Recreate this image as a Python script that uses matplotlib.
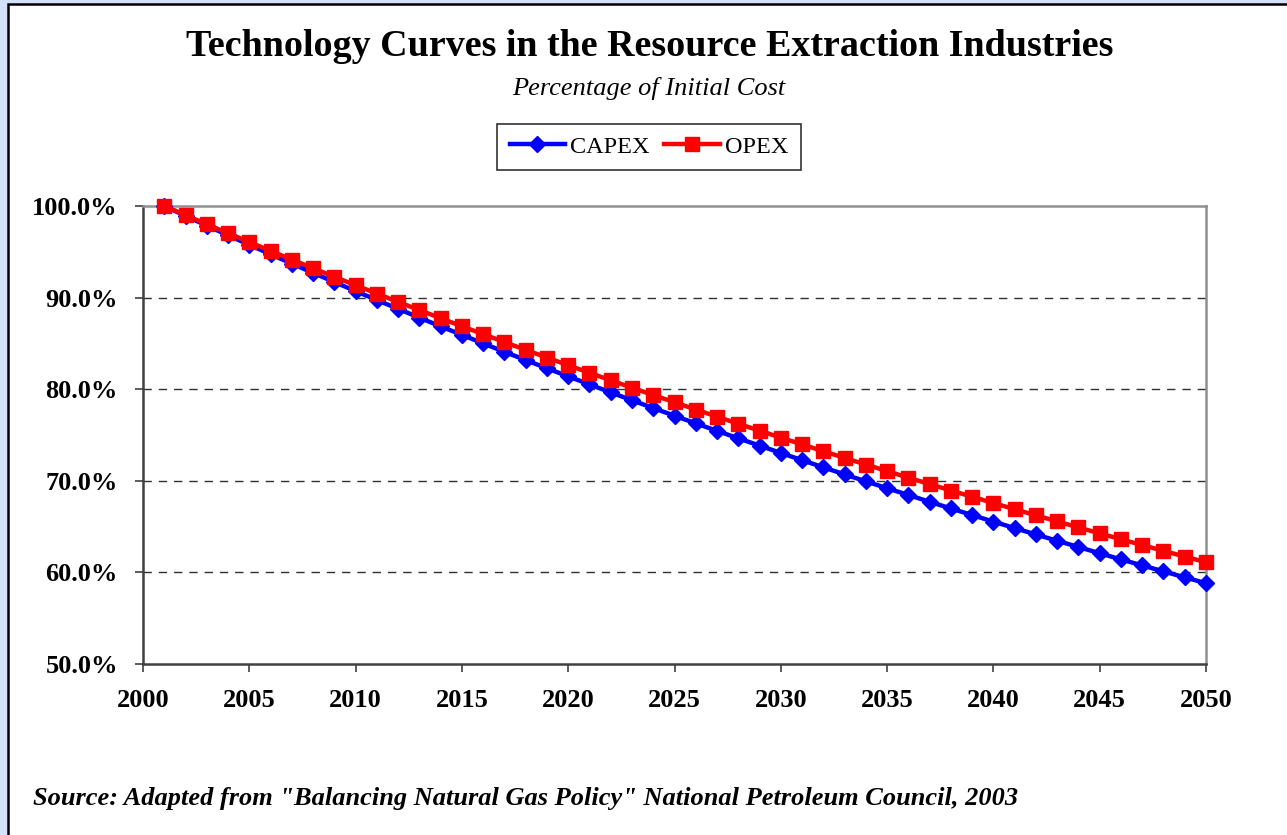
import matplotlib
matplotlib.use("Agg")
import matplotlib.pyplot as plt
from matplotlib.patches import Rectangle
from matplotlib.ticker import FuncFormatter

years = list(range(2001, 2051))
capex = [100.0, 98.92, 97.86, 96.80, 95.76, 94.73, 93.71, 92.70, 91.70, 90.71,
         89.73, 88.77, 87.81, 86.86, 85.93, 85.00, 84.08, 83.18, 82.28, 81.40,
         80.52, 79.65, 78.79, 77.94, 77.10, 76.27, 75.45, 74.64, 73.84, 73.04,
         72.25, 71.47, 70.70, 69.94, 69.19, 68.45, 67.71, 66.98, 66.26, 65.54,
         64.84, 64.14, 63.45, 62.77, 62.09, 61.42, 60.76, 60.11, 59.46, 58.82]
opex = [100.0, 99.00, 98.01, 97.03, 96.06, 95.10, 94.15, 93.21, 92.27, 91.35,
        90.44, 89.53, 88.64, 87.75, 86.87, 86.01, 85.15, 84.29, 83.45, 82.62,
        81.79, 80.97, 80.16, 79.36, 78.57, 77.78, 77.00, 76.23, 75.47, 74.72,
        73.97, 73.23, 72.50, 71.77, 71.06, 70.34, 69.64, 68.94, 68.26, 67.57,
        66.90, 66.23, 65.57, 64.91, 64.26, 63.62, 62.98, 62.35, 61.73, 61.11]
x_ticks = list(range(2000, 2051, 5))
y_ticks = [50, 60, 70, 80, 90, 100]

plt.rcParams['font.family'] = ['Liberation Serif', 'DejaVu Serif']

W, H = 1287, 835
fig = plt.figure(figsize=(W / 100, H / 100), dpi=100)
fig.patch.set_facecolor('#d5e1f9')
fig.patches.append(Rectangle((8 / W, -0.05), 1.1, 1 - 4 / H + 0.05,
                             transform=fig.transFigure, facecolor='white',
                             edgecolor='black', linewidth=1.8, zorder=-5))

ax = fig.add_axes([143 / W, 1 - 664 / H, (1206 - 143) / W, (664 - 206) / H])
ax.set_zorder(2)
ax.set_facecolor('white')

ax.plot(years, capex, color='#0000ff', linewidth=3.2, marker='D',
        markersize=8.5, label='CAPEX', zorder=3, clip_on=False)
ax.plot(years, opex, color='#ff0000', linewidth=3.2, marker='s',
        markersize=10, label='OPEX', zorder=4, clip_on=False)

ax.set_xlim(2000, 2050)
ax.set_ylim(50, 100)
ax.set_xticks(x_ticks)
ax.set_yticks(y_ticks)
ax.yaxis.set_major_formatter(FuncFormatter(lambda v, p: f"{v:.1f}%"))
for lab in ax.get_xticklabels() + ax.get_yticklabels():
    lab.set_fontweight('bold')
    lab.set_fontsize(19)
ax.tick_params(axis='both', direction='out', length=6, width=1.2, color='#404040')
ax.tick_params(axis='x', pad=12)
ax.tick_params(axis='y', pad=12)

for g in [60, 70, 80, 90]:
    ax.axhline(g, color='#303030', linestyle=(0, (6, 5)), linewidth=1.0, zorder=1)

ax.spines['left'].set_color('#404040')
ax.spines['bottom'].set_color('#404040')
ax.spines['left'].set_linewidth(1.8)
ax.spines['bottom'].set_linewidth(1.8)
ax.spines['top'].set_color('#909090')
ax.spines['right'].set_color('#909090')
ax.spines['top'].set_linewidth(1.8)
ax.spines['right'].set_linewidth(1.8)

fig.text(650 / W, 1 - 47 / H, 'Technology Curves in the Resource Extraction Industries',
         ha='center', va='center', fontsize=27.4, fontweight='bold')
fig.text(649 / W, 1 - 89 / H, 'Percentage of Initial Cost', ha='center', va='center',
         fontsize=19, style='italic')

leg = fig.legend(loc='center', bbox_to_anchor=(649 / W, 1 - 147 / H), ncol=2,
                 frameon=True, fancybox=False, fontsize=17.5, handlelength=2.3,
                 handletextpad=0.2, columnspacing=0.6, borderpad=0.5,
                 borderaxespad=0)
leg.get_frame().set_edgecolor('black')
leg.get_frame().set_linewidth(1.2)

fig.text(33 / W, 1 - 798 / H,
         'Source: Adapted from "Balancing Natural Gas Policy" National Petroleum Council, 2003',
         ha='left', va='center', fontsize=19, style='italic', fontweight='bold')

fig.savefig('out.png', dpi=100, facecolor=fig.get_facecolor())
